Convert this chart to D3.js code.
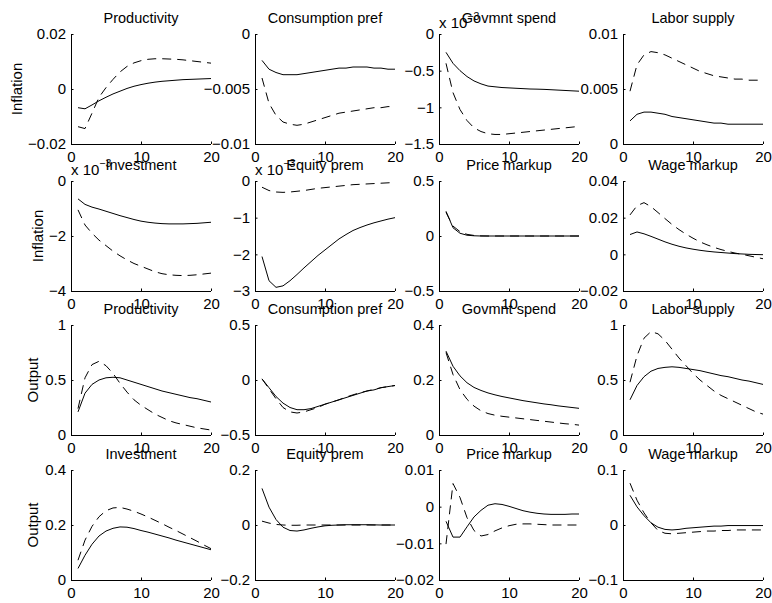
<!DOCTYPE html>
<html>
<head>
<meta charset="utf-8">
<script src="https://cdn.jsdelivr.net/npm/d3@7"></script>
<style>
  body { margin: 0; background: #fff; }
  svg text { font-family: "Liberation Sans", Arial, sans-serif; fill: #000; }
</style>
</head>
<body>
<svg id="chart" width="772" height="603"></svg>
<script>
// impulse responses, periods 1..20 (solid = one model, dashed = the other)
var periods = d3.range(1, 21);
var shocks = ['Productivity', 'Consumption pref', 'Govmnt spend', 'Labor supply',
              'Investment', 'Equity prem', 'Price markup', 'Wage markup'];
var rowVars = ['Inflation', 'Inflation', 'Output', 'Output'];

// inflation responses
var inflProdSolid = [-0.0068,-0.0072,-0.0058,-0.0043,-0.003,-0.0018,-0.0008,0.0002,0.001,0.0016,0.0021,0.0025,0.0028,0.003,0.0032,0.0034,0.0035,0.0036,0.0037,0.0038];
var inflProdDash  = [-0.0137,-0.0144,-0.0088,-0.003,0.0005,0.0035,0.0062,0.0082,0.0095,0.0103,0.0108,0.011,0.011,0.0109,0.0108,0.0106,0.0103,0.01,0.0097,0.0094];
var inflConsSolid = [-0.0024,-0.0032,-0.0035,-0.0037,-0.0037,-0.0037,-0.0036,-0.0035,-0.0034,-0.0033,-0.0032,-0.0031,-0.0031,-0.003,-0.003,-0.003,-0.0031,-0.0031,-0.0032,-0.0032];
var inflConsDash  = [-0.004,-0.0063,-0.0074,-0.008,-0.0082,-0.0083,-0.0082,-0.008,-0.0078,-0.0076,-0.0074,-0.0072,-0.0071,-0.007,-0.0069,-0.0068,-0.0067,-0.0067,-0.0066,-0.0066];
var inflGovSolid  = [-0.25,-0.4,-0.5,-0.58,-0.64,-0.68,-0.71,-0.72,-0.73,-0.735,-0.74,-0.745,-0.75,-0.752,-0.755,-0.76,-0.765,-0.77,-0.775,-0.78];
var inflGovDash   = [-0.4,-0.8,-1.03,-1.18,-1.28,-1.33,-1.36,-1.37,-1.37,-1.36,-1.35,-1.34,-1.33,-1.32,-1.31,-1.3,-1.29,-1.28,-1.27,-1.26];
var inflLabSolid  = [0.0021,0.0027,0.0029,0.0029,0.0028,0.0027,0.0025,0.0024,0.0023,0.0022,0.0021,0.002,0.0019,0.0019,0.0018,0.0018,0.0018,0.0018,0.0018,0.0018];
var inflLabDash   = [0.0048,0.0072,0.0081,0.0084,0.0083,0.0081,0.0078,0.0075,0.0072,0.0069,0.0066,0.0064,0.0062,0.0061,0.006,0.0059,0.0059,0.0058,0.0058,0.0058];
var inflInvSolid  = [-0.65,-0.85,-0.95,-1.02,-1.1,-1.18,-1.26,-1.33,-1.4,-1.46,-1.5,-1.53,-1.55,-1.56,-1.56,-1.56,-1.55,-1.54,-1.52,-1.5];
var inflInvDash   = [-1.05,-1.6,-1.9,-2.15,-2.35,-2.55,-2.72,-2.87,-3.0,-3.1,-3.2,-3.3,-3.37,-3.41,-3.43,-3.44,-3.43,-3.41,-3.38,-3.35];
var inflEqSolid   = [-2.06,-2.72,-2.9,-2.86,-2.72,-2.55,-2.37,-2.2,-2.03,-1.88,-1.73,-1.58,-1.46,-1.35,-1.27,-1.2,-1.14,-1.09,-1.04,-1.0];
var inflEqDash    = [-0.17,-0.26,-0.3,-0.31,-0.3,-0.28,-0.26,-0.23,-0.2,-0.18,-0.16,-0.14,-0.12,-0.1,-0.09,-0.08,-0.07,-0.06,-0.05,-0.04];
var inflPmSolid   = [0.225,0.075,0.025,0.007,0.002,0,0,0,0,0,0,0,0,0,0,0,0,0,0,0];
var inflPmDash    = [0.215,0.09,0.04,0.015,0.005,0.001,0,0,0,0,0,0,0,0,0,0,0,0,0,0];
var inflWmSolid   = [0.0108,0.0122,0.0112,0.0098,0.0083,0.0068,0.0055,0.0044,0.0035,0.0028,0.0022,0.0017,0.0013,0.001,0.0007,0.0004,0.0002,0,-0.0001,-0.0002];
var inflWmDash    = [0.0215,0.0265,0.0282,0.026,0.0228,0.0195,0.0163,0.0135,0.011,0.0088,0.0068,0.0052,0.0038,0.0026,0.0016,0.0007,0,-0.0008,-0.0016,-0.0024];

// output responses
var outProdSolid = [0.21,0.38,0.46,0.5,0.52,0.525,0.52,0.5,0.48,0.46,0.44,0.42,0.4,0.385,0.37,0.355,0.34,0.33,0.315,0.3];
var outProdDash  = [0.24,0.52,0.64,0.67,0.63,0.56,0.47,0.39,0.32,0.27,0.23,0.19,0.16,0.13,0.11,0.095,0.08,0.065,0.055,0.045];
var outConsSolid = [0.01,-0.07,-0.15,-0.21,-0.25,-0.27,-0.27,-0.26,-0.24,-0.22,-0.2,-0.18,-0.16,-0.14,-0.12,-0.1,-0.09,-0.07,-0.06,-0.05];
var outConsDash  = [0.01,-0.08,-0.17,-0.25,-0.29,-0.3,-0.29,-0.27,-0.25,-0.22,-0.2,-0.18,-0.155,-0.135,-0.115,-0.1,-0.085,-0.07,-0.06,-0.05];
var outGovSolid  = [0.305,0.25,0.215,0.19,0.173,0.162,0.153,0.146,0.14,0.135,0.13,0.125,0.121,0.117,0.113,0.11,0.106,0.103,0.1,0.097];
var outGovDash   = [0.3,0.22,0.165,0.13,0.105,0.088,0.078,0.072,0.068,0.065,0.062,0.059,0.056,0.053,0.05,0.047,0.044,0.041,0.039,0.036];
var outLabSolid  = [0.32,0.45,0.53,0.58,0.605,0.615,0.62,0.615,0.605,0.595,0.585,0.57,0.555,0.54,0.53,0.515,0.5,0.49,0.475,0.46];
var outLabDash   = [0.48,0.72,0.88,0.94,0.92,0.86,0.78,0.7,0.63,0.56,0.5,0.45,0.4,0.36,0.33,0.3,0.27,0.24,0.21,0.19];
var outInvSolid  = [0.042,0.09,0.13,0.16,0.178,0.188,0.193,0.192,0.187,0.18,0.174,0.167,0.16,0.153,0.145,0.138,0.131,0.124,0.117,0.11];
var outInvDash   = [0.072,0.145,0.195,0.23,0.252,0.262,0.264,0.258,0.25,0.24,0.229,0.217,0.205,0.192,0.18,0.167,0.154,0.141,0.127,0.114];
var outEqSolid   = [0.133,0.065,0.02,-0.008,-0.02,-0.022,-0.018,-0.012,-0.007,-0.003,-0.001,0,0.001,0.001,0.001,0.001,0.0005,0,0,0];
var outEqDash    = [0.014,0.007,0.002,0,-0.001,-0.001,0,0,0,0,0,0,0,0,0,0,0,0,0,0];
var outPmSolid   = [-0.004,-0.0083,-0.0083,-0.0055,-0.0028,-0.001,0.0004,0.0008,0.0006,0.0001,-0.0005,-0.0011,-0.0015,-0.0018,-0.002,-0.0021,-0.0021,-0.0021,-0.002,-0.002];
var outPmDash    = [-0.0102,0.0063,0.0025,-0.003,-0.0065,-0.008,-0.0076,-0.0066,-0.0058,-0.0052,-0.0048,-0.0047,-0.0047,-0.0048,-0.0049,-0.005,-0.005,-0.005,-0.005,-0.005];
var outWmSolid   = [0.054,0.033,0.017,0.004,-0.004,-0.008,-0.009,-0.008,-0.006,-0.005,-0.004,-0.003,-0.002,-0.002,-0.001,-0.001,-0.001,-0.001,-0.001,-0.001];
var outWmDash    = [0.076,0.045,0.022,0.004,-0.01,-0.015,-0.016,-0.015,-0.014,-0.013,-0.012,-0.011,-0.011,-0.01,-0.01,-0.009,-0.009,-0.009,-0.009,-0.009];

var solidSeries = [inflProdSolid, inflConsSolid, inflGovSolid, inflLabSolid, inflInvSolid, inflEqSolid, inflPmSolid, inflWmSolid,
                   outProdSolid, outConsSolid, outGovSolid, outLabSolid, outInvSolid, outEqSolid, outPmSolid, outWmSolid];
var dashSeries  = [inflProdDash, inflConsDash, inflGovDash, inflLabDash, inflInvDash, inflEqDash, inflPmDash, inflWmDash,
                   outProdDash, outConsDash, outGovDash, outLabDash, outInvDash, outEqDash, outPmDash, outWmDash];

var yDomains = [[-0.02,0.02],[-0.01,0],[-1.5,0],[0,0.01],[-4,0],[-3,0],[-0.5,0.5],[-0.02,0.04],
                [0,1],[-0.5,0.5],[0,0.4],[0,1],[0,0.4],[-0.2,0.2],[-0.02,0.01],[-0.1,0.1]];
var yTicks = [[-0.02,0,0.02],[-0.01,-0.005,0],[-1.5,-1,-0.5,0],[0,0.005,0.01],[-4,-2,0],[-3,-2,-1,0],[-0.5,0,0.5],[-0.02,0,0.02,0.04],
              [0,0.5,1],[-0.5,0,0.5],[0,0.2,0.4],[0,0.5,1],[0,0.2,0.4],[-0.2,0,0.2],[-0.02,-0.01,0,0.01],[-0.1,0,0.1]];
var exponents = [null,null,-3,null,-3,-3,null,null, null,null,null,null,null,null,null,null];
var xTicks = [0, 10, 20];

// layout
var colLeft = [71, 255, 439, 623];
var rowTop = [34, 181, 325, 470];
var panelW = 140, panelH = 110;
var ylabelX = [21.7, 43.3, 37.5, 37.5];
var tickLen = 2.5;

var svg = d3.select('#chart');
var fmt = function(d) { return String(d).replace('-', '\u2212'); };

solidSeries.forEach(function(solid, i) {
  var row = Math.floor(i / 4), col = i % 4;
  var left = colLeft[col], top = rowTop[row];

  var x = d3.scaleLinear().domain([0, 20]).range([0, panelW]);
  var y = d3.scaleLinear().domain(yDomains[i]).range([panelH, 0]);

  var g = svg.append('g').attr('transform', 'translate(' + left + ',' + top + ')');

  // lines
  var line = d3.line().x(function(d, k) { return x(periods[k]); }).y(function(d) { return y(d); });
  g.append('path').datum(solid).attr('d', line)
    .attr('fill', 'none').attr('stroke', '#000').attr('stroke-width', 1);
  g.append('path').datum(dashSeries[i]).attr('d', line)
    .attr('fill', 'none').attr('stroke', '#000').attr('stroke-width', 1)
    .attr('stroke-dasharray', '9,6');

  // axes (matlab style: ticks inside, no box)
  var xAxis = g.append('g').attr('transform', 'translate(0,' + panelH + ')')
    .call(d3.axisBottom(x).tickValues(xTicks).tickSize(-tickLen).tickPadding(8).tickFormat(fmt));
  var yAxis = g.append('g')
    .call(d3.axisLeft(y).tickValues(yTicks[i]).tickSize(-tickLen).tickPadding(5).tickFormat(fmt));
  [xAxis, yAxis].forEach(function(ax) {
    ax.select('.domain').attr('stroke', '#000').attr('d', null);
    ax.selectAll('text').style('font-size', '15px').attr('fill', '#000');
    ax.selectAll('line').attr('stroke', '#000');
  });
  xAxis.select('.domain').remove();
  yAxis.select('.domain').remove();
  xAxis.selectAll('text').attr('dy', '0.71em').attr('y', 7);
  g.append('line').attr('x1', 0).attr('x2', panelW).attr('y1', panelH + 0.5).attr('y2', panelH + 0.5)
    .attr('stroke', '#000').attr('stroke-width', 1);
  g.append('line').attr('x1', 0.5).attr('x2', 0.5).attr('y1', 0).attr('y2', panelH + 0.5)
    .attr('stroke', '#000').attr('stroke-width', 1);

  // title
  g.append('text').attr('x', panelW / 2).attr('y', -11)
    .attr('text-anchor', 'middle').style('font-size', '14.5px')
    .text(shocks[i % 8]);

  // exponent
  if (exponents[i] != null) {
    var ex = g.append('text').attr('x', 0).attr('y', -6).style('font-size', '15px');
    ex.append('tspan').text('x 10');
    ex.append('tspan').attr('dy', -8).style('font-size', '10.5px').text(fmt(exponents[i]));
  }

  // row label
  if (col === 0) {
    g.append('text')
      .attr('transform', 'translate(' + (ylabelX[row] - left) + ',' + panelH / 2 + ') rotate(-90)')
      .attr('text-anchor', 'middle').style('font-size', '15px')
      .text(rowVars[row]);
  }
});
</script>
</body>
</html>
